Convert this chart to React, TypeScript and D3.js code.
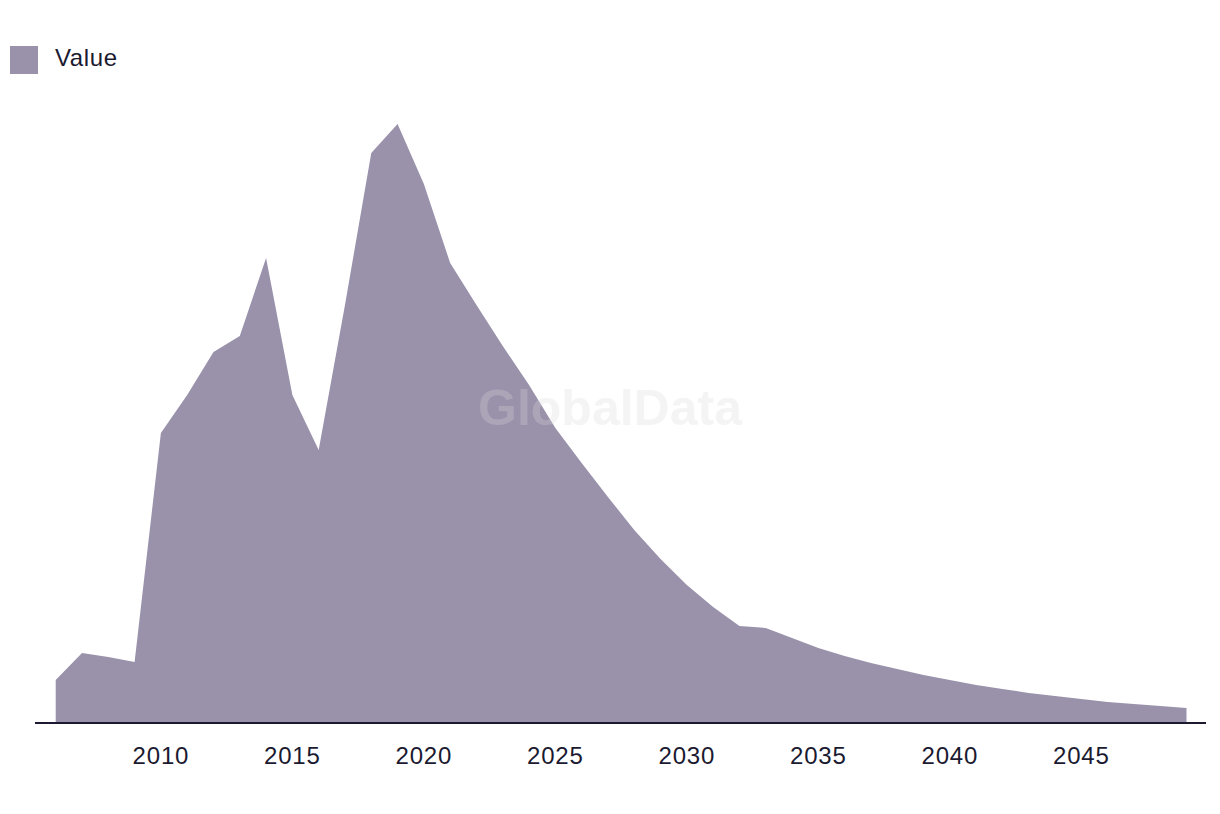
import React from "react";
import * as d3 from "d3";

const years: number[] = [
  2006, 2007, 2008, 2009, 2010, 2011, 2012, 2013, 2014, 2015, 2016, 2017, 2018, 2019,
  2020, 2021, 2022, 2023, 2024, 2025, 2026, 2027, 2028, 2029, 2030, 2031, 2032, 2033,
  2034, 2035, 2036, 2037, 2038, 2039, 2040, 2041, 2042, 2043, 2044, 2045, 2046, 2047,
  2048, 2049,
];
const values: number[] = [
  43, 70, 66, 61, 290, 328, 371, 387, 465, 328, 273, 418, 570, 599,
  539, 460, 418, 377, 338, 295, 260, 226, 193, 164, 138, 116, 97, 95,
  85, 75, 67, 60, 54, 48, 43, 38, 34, 30, 27, 24, 21, 19,
  17, 15,
];
const tickYears: number[] = [2010, 2015, 2020, 2025, 2030, 2035, 2040, 2045];
const seriesName = "Value";

const W = 1220;
const H = 814;
const FILL = "#9A91AB";
const INK = "#1b1a30";
const FONT = "'Liberation Sans', Arial, sans-serif";

export default function App() {
  const x = d3.scaleLinear().domain([2006, 2049]).range([55.7, 1186.5]);
  const y = d3.scaleLinear().domain([0, 600]).range([723, 123]);
  const data = years.map((yr, i) => ({ yr, v: values[i] }));
  const area = d3
    .area<{ yr: number; v: number }>()
    .x((d) => x(d.yr))
    .y0(y(0))
    .y1((d) => y(d.v));

  return (
    <svg
      width={W}
      height={H}
      style={{ position: "absolute", left: 0, top: 0, background: "#fff" }}
    >
      <rect x={0} y={0} width={W} height={H} fill="#fff" />
      {/* legend */}
      <rect x={10} y={46} width={28} height={28} fill={FILL} />
      <text x={55} y={66} fontFamily={FONT} fontSize={24} letterSpacing={0.6} fill={INK}>
        {seriesName}
      </text>
      {/* area */}
      <path d={area(data) || ""} fill={FILL} />
      {/* watermark */}
      <text
        x={610}
        y={425}
        textAnchor="middle"
        fontFamily={FONT}
        fontWeight="bold"
        fontSize={50}
        fill="#d9d9d9"
        opacity={0.28}
      >
        GlobalData
      </text>
      {/* axis */}
      <line x1={35} x2={1206} y1={723} y2={723} stroke={INK} strokeWidth={2} />
      {tickYears.map((t) => (
        <text
          key={t}
          x={x(t)}
          y={764}
          textAnchor="middle"
          fontFamily={FONT}
          fontSize={24}
          letterSpacing={0.8}
          fill={INK}
        >
          {t}
        </text>
      ))}
    </svg>
  );
}
